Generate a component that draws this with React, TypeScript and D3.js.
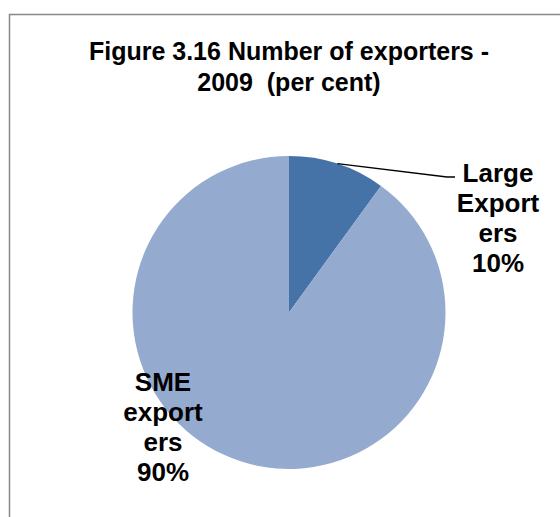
import React from "react";
import * as d3 from "d3";

const categories = ["Large Exporters", "SME exporters"];
const values = [10, 90];
const labelLines = [
  ["Large", "Export", "ers", "10%"],
  ["SME", "export", "ers", "90%"],
];
const titleLines = ["Figure 3.16 Number of exporters -", "2009  (per cent)"];

const W = 560;
const H = 517;
const cx = 289;
const cy = 312.5;
const R = 156.5;
const colors = ["#4573A7", "#94AACF"];
const font = "Arial, 'Liberation Sans', Helvetica, sans-serif";

export default function App() {
  const pie = d3
    .pie<number>()
    .sort(null)
    .value((d) => d)
    .startAngle(0)
    .endAngle(2 * Math.PI);
  const arcs = pie(values);
  const arc = d3.arc<d3.PieArcDatum<number>>().innerRadius(0).outerRadius(R);

  // leader line for Large exporters: start on the arc edge
  const a0 = arcs[0];
  const leadAngle = a0.startAngle + (a0.endAngle - a0.startAngle) * 0.5;
  const sx = cx + R * Math.sin(leadAngle);
  const sy = cy - R * Math.cos(leadAngle);
  const linePath = d3.line()([
    [sx, sy],
    [447, 177],
    [455, 177],
  ]);

  const labelPos = [
    { x: 498, y: 181.5 },
    { x: 163, y: 391 },
  ];

  return (
    <svg
      width={W}
      height={H}
      style={{ position: "absolute", left: 0, top: 0, background: "#fff" }}
    >
      <rect x={0} y={0} width={W} height={H} fill="#fff" />
      <rect
        x={9.5}
        y={14.5}
        width={W + 20}
        height={H + 20}
        fill="none"
        stroke="#878787"
        strokeWidth={1.5}
      />
      <g fontFamily={font} fontWeight="bold" fontSize={25} textAnchor="middle" fill="#000">
        {titleLines.map((t, i) => (
          <text key={i} x={cx} y={60 + i * 31} style={{ whiteSpace: "pre" }}>
            {t}
          </text>
        ))}
      </g>
      <g>
        {arcs.map((d, i) => (
          <path
            key={categories[i]}
            d={arc(d) || ""}
            transform={`translate(${cx},${cy})`}
            fill={colors[i]}
          />
        ))}
      </g>
      <path d={linePath || ""} fill="none" stroke="#000" strokeWidth={1.3} />
      <g fontFamily={font} fontWeight="bold" fontSize={26} textAnchor="middle" fill="#000">
        {labelLines.map((lines, i) =>
          lines.map((l, j) => (
            <text key={`${i}-${j}`} x={labelPos[i].x} y={labelPos[i].y + j * 30}>
              {l}
            </text>
          ))
        )}
      </g>
    </svg>
  );
}
